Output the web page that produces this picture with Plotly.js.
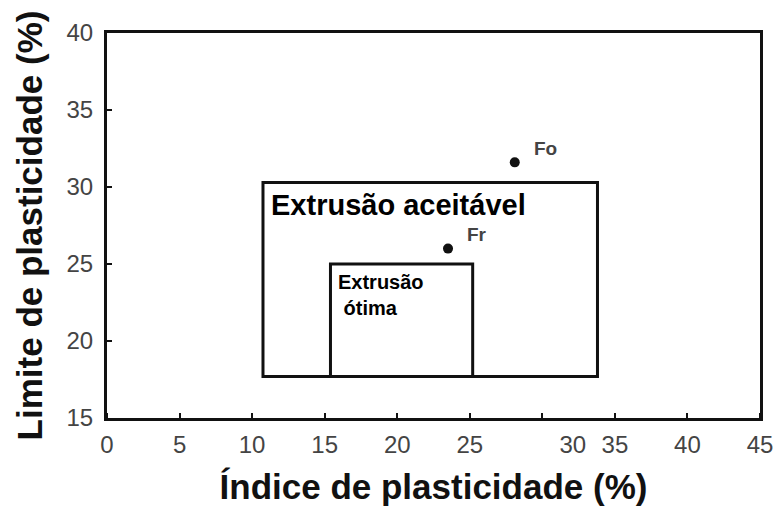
<!DOCTYPE html>
<html>
<head>
<meta charset="utf-8">
<script src="https://cdn.plot.ly/plotly-3.0.1.min.js"></script>
<style>
  html, body { margin: 0; padding: 0; background: #fff; }
  #chart { width: 776px; height: 510px; }
</style>
</head>
<body>
<div id="chart"></div>
<script>
// samples
var sampleNames = ['Fo', 'Fr'];
var plasticityIndex = [28.1, 23.5];
var plasticityLimit = [31.6, 26.0];

// extrusion zones: [x0, x1] and [y0, y1]
var acceptableX = [10.75, 33.8];
var acceptableY = [17.7, 30.3];
var optimalX = [15.4, 25.2];
var optimalY = [17.7, 25.0];

// x tick labels (the "30" sits off its tick in the original figure)
var xTickPos = [0, 5, 10, 15, 20, 25, 32.1, 35, 40, 45];
var xTickText = ['0', '5', '10', '15', '20', '25', '30', '35', '40', '45'];
var yTickVals = [15, 20, 25, 30, 35, 40];

var tickFont = { family: 'Liberation Sans Narrow, Arial Narrow, Liberation Sans, Arial', size: 24, color: '#444' };
var boldFont = 'Liberation Sans, Arial, sans-serif';

var data = [
    {
        x: plasticityIndex,
        y: plasticityLimit,
        mode: 'markers',
        type: 'scatter',
        marker: { color: '#111', size: 10 },
        hoverinfo: 'none'
    }
];

var shapes = [
    {
        type: 'rect', xref: 'x', yref: 'y',
        x0: acceptableX[0], x1: acceptableX[1], y0: acceptableY[0], y1: acceptableY[1],
        line: { color: '#111', width: 3 }
    },
    {
        type: 'rect', xref: 'x', yref: 'y',
        x0: optimalX[0], x1: optimalX[1], y0: optimalY[0], y1: optimalY[1],
        line: { color: '#111', width: 3 }
    }
];

var annotations = [];
for (var i in sampleNames) {
    annotations.push({
        x: plasticityIndex[i], y: plasticityLimit[i], xref: 'x', yref: 'y',
        text: sampleNames[i], showarrow: false,
        xanchor: 'left', yanchor: 'middle', xshift: 17, yshift: 14,
        font: { family: boldFont, size: 19, color: '#444', weight: 'bold' }
    });
}
annotations.push({
    x: acceptableX[0], y: acceptableY[1], xref: 'x', yref: 'y',
    text: 'Extrusão aceitável', showarrow: false,
    xanchor: 'left', yanchor: 'middle', xshift: 6, yshift: -23,
    font: { family: boldFont, size: 29, color: '#000', weight: 'bold' }
});
annotations.push({
    x: optimalX[0], y: optimalY[1], xref: 'x', yref: 'y',
    text: 'Extrusão<br> ótima', showarrow: false, align: 'left',
    xanchor: 'left', yanchor: 'top', xshift: 6, yshift: -5,
    font: { family: boldFont, size: 20, color: '#000', weight: 'bold' }
});

var layout = {
    width: 776,
    height: 510,
    margin: { l: 107, r: 16, t: 33, b: 92 },
    paper_bgcolor: '#fff',
    plot_bgcolor: '#fff',
    showlegend: false,
    xaxis: {
        range: [0, 45],
        tickmode: 'array',
        tickvals: xTickPos,
        ticktext: xTickText,
        ticks: '',
        ticklabelstandoff: 3,
        minor: { dtick: 5, tick0: 0, ticks: 'inside', ticklen: 5, tickwidth: 2, tickcolor: '#111', showgrid: false },
        showgrid: false,
        zeroline: false,
        showline: true,
        mirror: true,
        linecolor: '#111',
        linewidth: 3,
        tickfont: tickFont,
        title: { text: 'Índice de plasticidade (%)', standoff: 18, font: { family: boldFont, size: 35, color: '#111', weight: 'bold' } }
    },
    yaxis: {
        range: [15, 40],
        tickmode: 'array',
        tickvals: yTickVals,
        ticks: 'inside',
        ticklen: 5,
        tickwidth: 2,
        tickcolor: '#111',
        ticklabelstandoff: 6,
        showgrid: false,
        zeroline: false,
        showline: true,
        mirror: true,
        linecolor: '#111',
        linewidth: 3,
        tickfont: tickFont,
        title: { text: 'Limite de plasticidade (%)', standoff: 14, font: { family: boldFont, size: 35, color: '#111', weight: 'bold' } }
    },
    shapes: shapes,
    annotations: annotations
};

Plotly.newPlot('chart', data, layout, { staticPlot: true });
</script>
</body>
</html>
